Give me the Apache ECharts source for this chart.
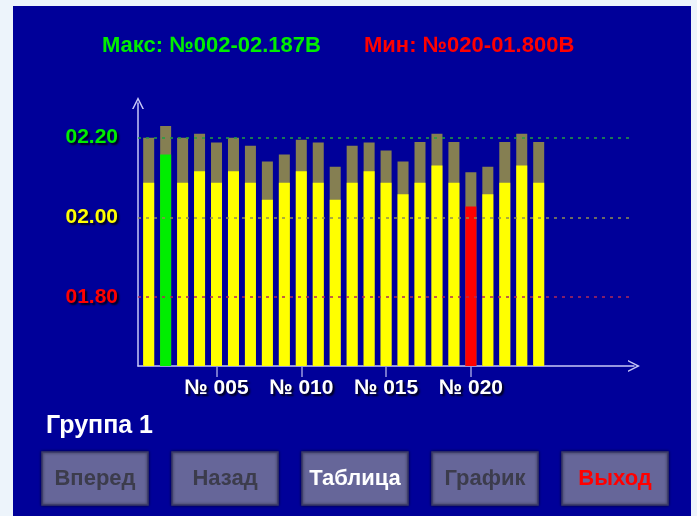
<!DOCTYPE html>
<html><head><meta charset="utf-8">
<script src="https://cdn.jsdelivr.net/npm/echarts@6/dist/echarts.min.js"></script>
<style>
html,body{margin:0;padding:0;background:#edf4fb;overflow:hidden;}
#panel{position:absolute;left:13px;top:6px;width:678px;height:510px;background:#000099;}
#chart{position:absolute;left:0;top:0;width:697px;height:516px;}
</style></head><body>
<div id="panel"></div><div id="chart"></div>
<script>
// ---- data ----
const categories = [1,2,3,4,5,6,7,8,9,10,11,12,13,14,15,16,17,18,19,20,21,22,23,24];
const readings = [2.087,2.158,2.087,2.116,2.087,2.116,2.087,2.044,2.087,2.116,2.087,2.044,
                  2.087,2.116,2.087,2.058,2.087,2.130,2.087,2.027,2.058,2.087,2.130,2.087];
const upperValues = [2.200,2.229,2.200,2.210,2.188,2.200,2.180,2.140,2.158,2.195,2.188,2.127,
                     2.180,2.188,2.168,2.140,2.189,2.210,2.189,2.113,2.127,2.189,2.210,2.189];
const xTickValues = [5,10,15,20];
const yTickValues = [1.8,2.0,2.2];
const maxText = 'Макс: №002-02.187В';
const minText = 'Мин: №020-01.800В';
const groupLabel = 'Группа 1';
const buttonLabels = ['Вперед','Назад','Таблица','График','Выход'];

// ---- chart ----
const FONT = '"Liberation Sans", Arial, sans-serif';
const chart = echarts.init(document.getElementById('chart'), null, {renderer:'canvas'});
let iMax = 0, iMin = 0;
readings.forEach((v,i)=>{ if(v>readings[iMax]) iMax=i; if(v<readings[iMin]) iMin=i; });

const chevron = 'path://M0,12 L6,0 L12,12 L10.4,12 L6,3.2 L1.6,12 Z';
const axisLineStyle = {show:true, symbol:['none', chevron], symbolSize:[12,12],
  lineStyle:{color:'#c8c8f8', width:1.5}};
const shadow = {textShadowColor:'rgba(0,0,0,0.85)', textShadowBlur:2, textShadowOffsetX:2, textShadowOffsetY:2};
const yColor = v => Math.abs(v-2.2)<1e-6 ? '#00ee00' : (Math.abs(v-2.0)<1e-6 ? '#ffff00' : '#ff0000');
const lineColor = v => Math.abs(v-2.2)<1e-6 ? '#22a040' : (Math.abs(v-2.0)<1e-6 ? '#909050' : '#b02858');

const btnColors = ['#3c3c4c','#3c3c4c','#ffffff','#3c3c4c','#ff0000'];
const buttons = [];
buttonLabels.forEach((t,i)=>{
  const x = 42 + i*130;
  buttons.push({type:'rect', shape:{x:x, y:452, width:106, height:53},
    style:{fill:'#666699', stroke:'#3a3a6a', lineWidth:1.5, shadowBlur:3, shadowColor:'rgba(0,0,0,0.6)'}});
  buttons.push({type:'text', x:x+53, y:479, style:{text:t, fill:btnColors[i],
    font:'bold 22px '+FONT, align:'center', verticalAlign:'middle'}});
});

const option = {
  backgroundColor:'transparent',
  animation:false,
  grid:{left:138, right:63, top:103, bottom:150},
  xAxis:{type:'value', min:0.37, max:29.62,
    axisLine:axisLineStyle,
    axisTick:{show:true, customValues:xTickValues, length:11, lineStyle:{color:'#9a9ae0', width:1.5}},
    axisLabel:{customValues:xTickValues, formatter:v=>'№ '+String(Math.round(v)).padStart(3,'0'),
      color:'#ffffff', fontFamily:FONT, fontWeight:'bold', fontSize:21, margin:12, ...shadow},
    splitLine:{show:false}},
  yAxis:{type:'value', min:1.627, max:2.287,
    axisLine:axisLineStyle,
    axisTick:{show:false},
    axisLabel:{customValues:yTickValues, formatter:v=>'0'+v.toFixed(2),
      color:v=>yColor(v), fontFamily:FONT, fontWeight:'bold', fontSize:21, margin:20, ...shadow},
    splitLine:{show:false}},
  series:[
    {type:'line', data:[], z:1, silent:true,
     markLine:{silent:true, symbol:'none', label:{show:false},
       lineStyle:{type:[3,5], width:1.5, opacity:1},
       data: yTickValues.map(v=>({yAxis:v, lineStyle:{color:lineColor(v), type:[3,5], width:1.5, opacity:1}}))}},
    {type:'bar', name:'upper', z:2, barWidth:11, barGap:'-100%',
     itemStyle:{color:'#857f52'},
     data: categories.map((c,i)=>[c, upperValues[i]])},
    {type:'bar', name:'reading', z:3, barWidth:11, barGap:'-100%',
     itemStyle:{color:'#ffff00'},
     data: categories.map((c,i)=>({value:[c, readings[i]],
       itemStyle:{color: i===iMax ? '#00ee00' : (i===iMin ? '#ff0000' : '#ffff00')}}))}
  ],
  graphic:{elements:[
    {type:'text', x:102, y:46, style:{text:maxText, fill:'#00ee00', font:'bold 22px '+FONT,
      align:'left', verticalAlign:'middle', shadowColor:'rgba(0,0,0,0.9)', shadowBlur:2, shadowOffsetX:2, shadowOffsetY:2}},
    {type:'text', x:364, y:46, style:{text:minText, fill:'#ff0000', font:'bold 22px '+FONT,
      align:'left', verticalAlign:'middle', shadowColor:'rgba(0,0,0,0.9)', shadowBlur:2, shadowOffsetX:2, shadowOffsetY:2}},
    {type:'text', x:46, y:426, style:{text:groupLabel, fill:'#ffffff', font:'bold 25px '+FONT,
      align:'left', verticalAlign:'middle', shadowColor:'rgba(0,0,0,0.9)', shadowBlur:2, shadowOffsetX:2, shadowOffsetY:2}},
    ...buttons
  ]}
};
chart.setOption(option);
</script>
</body></html>
